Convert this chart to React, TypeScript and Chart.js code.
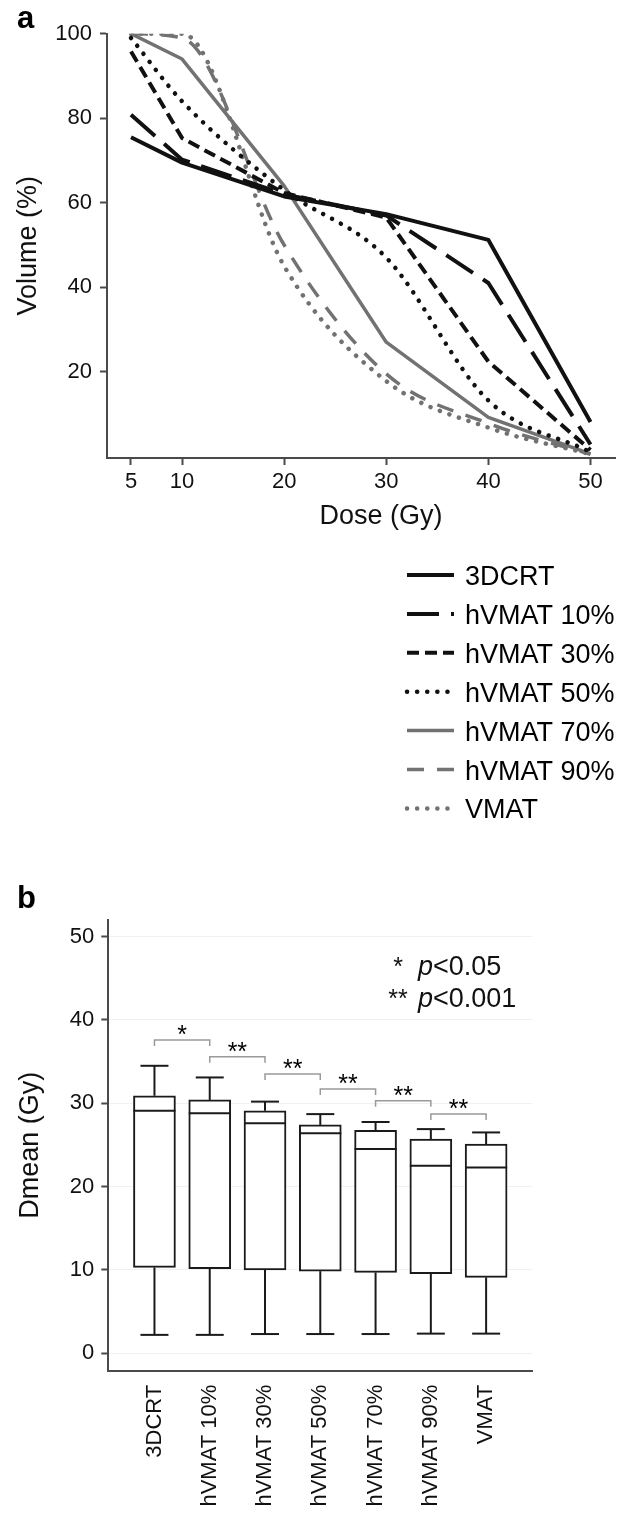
import React, { useEffect, useRef } from 'react';
import { Chart, registerables } from 'chart.js';

Chart.register(...registerables);

const FONT = '"Liberation Sans", Arial, Helvetica, sans-serif';
const INK = '#111111';
const AXIS = '#4a4a4a';
const GRAY = '#727272';

// ---------- Panel a data ----------
const doses = [5, 10, 20, 30, 40, 50];
const doseTicks = [5, 10, 20, 30, 40, 50];
const volumeTicks = [20, 40, 60, 80, 100];
const seriesNames = ['3DCRT', 'hVMAT 10%', 'hVMAT 30%', 'hVMAT 50%', 'hVMAT 70%', 'hVMAT 90%', 'VMAT'];
const vol3DCRT = [75.5, 69.5, 61.5, 57.3, 51.2, 8.1];
const volH10 = [80.8, 70.2, 62.0, 57.0, 41.0, 2.8];
const volH30 = [95.8, 75.3, 62.3, 56.5, 22.4, 1.5];
const volH50 = [99.0, 84.0, 63.0, 47.0, 13.2, 1.0];
const volH70 = [100, 94.0, 64.0, 27.0, 9.2, 0.6];
const volH90 = [100, 99.0, 50.0, 19.5, 7.8, 0.5];
const volVMAT = [100, 100, 45.0, 17.8, 6.8, 0.5];
const volumeSeries = [vol3DCRT, volH10, volH30, volH50, volH70, volH90, volVMAT];

// ---------- Panel b data ----------
const planNames = ['3DCRT', 'hVMAT 10%', 'hVMAT 30%', 'hVMAT 50%', 'hVMAT 70%', 'hVMAT 90%', 'VMAT'];
const dmeanMin = [2.2, 2.2, 2.3, 2.3, 2.3, 2.35, 2.35];
const dmeanQ1 = [10.3, 10.15, 10.0, 9.85, 9.7, 9.55, 9.1];
const dmeanMedian = [29.1, 28.8, 27.6, 26.4, 24.5, 22.5, 22.3];
const dmeanQ3 = [30.9, 30.4, 29.1, 27.4, 26.75, 25.7, 25.1];
const dmeanMax = [34.5, 33.1, 30.2, 28.7, 27.75, 26.9, 26.5];
const dmeanTicks = [0, 10, 20, 30, 40, 50];
const sigHeights = [37.6, 35.6, 33.5, 31.7, 30.3, 28.7];
const sigLabels = ['*', '**', '**', '**', '**', '**'];
const pLegendStars = ['*', '**'];
const pLegendTexts = ['<0.05', '<0.001'];

// ---------- styles ----------
const seriesStyles = [
  { color: INK, width: 4, dash: [] as number[], cap: 'butt', smooth: false },
  { color: INK, width: 4, dash: [32, 12], cap: 'butt', smooth: false },
  { color: INK, width: 4, dash: [12, 6], cap: 'butt', smooth: false },
  { color: INK, width: 4.5, dash: [0.1, 10], cap: 'round', smooth: true },
  { color: GRAY, width: 3.5, dash: [] as number[], cap: 'butt', smooth: false },
  { color: GRAY, width: 3.5, dash: [17, 13], cap: 'butt', smooth: true },
  { color: GRAY, width: 4.5, dash: [0.1, 10], cap: 'round', smooth: true },
];

const panelAPlugin = {
  id: 'panelAExtras',
  afterDraw(chart: any) {
    const { ctx, chartArea: ca } = chart;
    ctx.save();
    ctx.fillStyle = '#000';
    ctx.font = `bold 31px ${FONT}`;
    ctx.textAlign = 'left';
    ctx.textBaseline = 'alphabetic';
    ctx.fillText('a', 17, 28);

    ctx.fillStyle = INK;
    ctx.font = `27px ${FONT}`;
    ctx.save();
    ctx.translate(36, (ca.top + ca.bottom) / 2);
    ctx.rotate(-Math.PI / 2);
    ctx.textAlign = 'center';
    ctx.fillText('Volume (%)', 0, 0);
    ctx.restore();

    ctx.textAlign = 'center';
    ctx.fillText('Dose (Gy)', (ca.left + ca.right) / 2 + 20, 524);

    chart.data.datasets.forEach((ds: any, i: number) => {
      const yy = 575 + i * 38.9;
      ctx.save();
      ctx.strokeStyle = ds.borderColor;
      ctx.lineWidth = ds.borderWidth;
      ctx.setLineDash(ds.borderDash || []);
      ctx.lineCap = ds.borderCapStyle || 'butt';
      ctx.beginPath();
      ctx.moveTo(407, yy);
      ctx.lineTo(454, yy);
      ctx.stroke();
      ctx.restore();
      ctx.textAlign = 'left';
      ctx.fillStyle = '#000';
      ctx.fillText(ds.label, 465, yy + 10);
    });
    ctx.restore();
  },
};

const panelBPlugin = {
  id: 'panelBExtras',
  afterDatasetsDraw(chart: any) {
    const { ctx } = chart;
    const x = chart.scales.x;
    const y = chart.scales.y;
    ctx.save();
    ctx.strokeStyle = '#1a1a1a';
    ctx.lineWidth = 2;
    const seg = (x1: number, y1: number, x2: number, y2: number) => {
      ctx.beginPath();
      ctx.moveTo(x1, y1);
      ctx.lineTo(x2, y2);
      ctx.stroke();
    };
    planNames.forEach((_, i) => {
      const cx = x.getPixelForValue(i);
      const half = 21;
      const cap = 14;
      const yMax = y.getPixelForValue(dmeanMax[i]);
      const yMin = y.getPixelForValue(dmeanMin[i]);
      const yQ1 = y.getPixelForValue(dmeanQ1[i]);
      const yQ3 = y.getPixelForValue(dmeanQ3[i]);
      const yMed = y.getPixelForValue(dmeanMedian[i]);
      seg(cx, yQ3, cx, yMax);
      seg(cx - cap, yMax, cx + cap, yMax);
      seg(cx, yQ1, cx, yMin);
      seg(cx - cap, yMin, cx + cap, yMin);
      seg(cx - half, yMed, cx + half, yMed);
    });

    // significance brackets
    ctx.strokeStyle = '#9a9a9a';
    ctx.lineWidth = 1.5;
    ctx.fillStyle = '#000';
    ctx.font = `25px ${FONT}`;
    ctx.textAlign = 'center';
    ctx.textBaseline = 'alphabetic';
    sigHeights.forEach((h, i) => {
      const x1 = x.getPixelForValue(i);
      const x2 = x.getPixelForValue(i + 1);
      const yy = y.getPixelForValue(h);
      ctx.beginPath();
      ctx.moveTo(x1, yy + 6);
      ctx.lineTo(x1, yy);
      ctx.lineTo(x2, yy);
      ctx.lineTo(x2, yy + 6);
      ctx.stroke();
      ctx.fillText(sigLabels[i], (x1 + x2) / 2, yy + 3);
    });
    ctx.restore();
  },
  afterDraw(chart: any) {
    const { ctx, chartArea: ca } = chart;
    ctx.save();
    ctx.fillStyle = '#000';
    ctx.font = `bold 31px ${FONT}`;
    ctx.textAlign = 'left';
    ctx.textBaseline = 'alphabetic';
    ctx.fillText('b', 17, 48);

    ctx.fillStyle = INK;
    ctx.font = `27px ${FONT}`;
    ctx.save();
    ctx.translate(38, (ca.top + ca.bottom) / 2);
    ctx.rotate(-Math.PI / 2);
    ctx.textAlign = 'center';
    ctx.fillText('Dmean (Gy)', 0, 0);
    ctx.restore();

    // p-value key
    pLegendStars.forEach((s, i) => {
      const base = 115 + i * 32;
      ctx.font = `25px ${FONT}`;
      ctx.textAlign = 'center';
      ctx.fillText(s, 398, base);
      ctx.textAlign = 'left';
      ctx.font = `italic 27px ${FONT}`;
      ctx.fillText('p', 418, base);
      const pw = ctx.measureText('p').width;
      ctx.font = `27px ${FONT}`;
      ctx.fillText(pLegendTexts[i], 418 + pw, base);
    });
    ctx.restore();
  },
};

export default function App() {
  const refA = useRef<HTMLCanvasElement | null>(null);
  const refB = useRef<HTMLCanvasElement | null>(null);

  useEffect(() => {
    const tickFont = { family: FONT, size: 22 };
    const chartA = new Chart(refA.current as HTMLCanvasElement, {
      type: 'line',
      data: {
        datasets: seriesNames.map((name, si) => ({
          label: name,
          data: doses.map((d, i) => ({ x: d, y: volumeSeries[si][i] })),
          borderColor: seriesStyles[si].color,
          borderWidth: seriesStyles[si].width,
          borderDash: seriesStyles[si].dash,
          borderCapStyle: seriesStyles[si].cap as any,
          borderJoinStyle: 'round' as any,
          cubicInterpolationMode: seriesStyles[si].smooth ? 'monotone' : 'default',
          tension: 0,
          pointRadius: 0,
          fill: false,
        })),
      },
      options: {
        animation: false,
        responsive: false,
        devicePixelRatio: 1,
        events: [],
        layout: { padding: { top: 33.7, right: 11, left: 0, bottom: 0 } },
        plugins: { legend: { display: false }, tooltip: { enabled: false } },
        scales: {
          x: {
            type: 'linear',
            min: 2.65,
            max: 52.4,
            afterBuildTicks: (s: any) => {
              s.ticks = doseTicks.map((v) => ({ value: v }));
            },
            afterFit: (s: any) => {
              s.height = 382;
            },
            ticks: { font: tickFont, color: INK, padding: 4, maxRotation: 0, autoSkip: false },
            grid: { drawOnChartArea: false, drawTicks: true, tickLength: 7, tickColor: AXIS, tickWidth: 2 },
            border: { color: AXIS, width: 2 },
          },
          y: {
            type: 'linear',
            min: -0.4,
            max: 100,
            afterBuildTicks: (s: any) => {
              s.ticks = volumeTicks.map((v) => ({ value: v }));
            },
            afterFit: (s: any) => {
              s.width = 107;
            },
            ticks: { font: tickFont, color: INK, padding: 8 },
            grid: { drawOnChartArea: false, drawTicks: true, tickLength: 7, tickColor: AXIS, tickWidth: 2 },
            border: { color: AXIS, width: 2 },
          },
        },
      },
      plugins: [panelAPlugin],
    } as any);

    const chartB = new Chart(refB.current as HTMLCanvasElement, {
      type: 'bar',
      data: {
        datasets: [
          {
            label: 'Dmean',
            data: planNames.map((_, i) => ({ x: i, y: [dmeanQ1[i], dmeanQ3[i]] })),
            backgroundColor: '#ffffff',
            borderColor: '#1a1a1a',
            borderWidth: 2,
            borderSkipped: false,
            barThickness: 42,
          },
        ],
      },
      options: {
        animation: false,
        responsive: false,
        devicePixelRatio: 1,
        events: [],
        layout: { padding: { top: 60, right: 94, left: 0, bottom: 0 } },
        plugins: { legend: { display: false }, tooltip: { enabled: false } },
        scales: {
          x: {
            type: 'linear',
            offset: false,
            min: -0.835,
            max: 6.83,
            afterBuildTicks: (s: any) => {
              s.ticks = planNames.map((_, i) => ({ value: i }));
            },
            afterFit: (s: any) => {
              s.height = 147.3;
            },
            ticks: {
              font: tickFont,
              color: INK,
              padding: 14,
              minRotation: 90,
              maxRotation: 90,
              autoSkip: false,
              callback: (v: any) => planNames[Math.round(Number(v))] ?? '',
            },
            grid: { display: false, drawTicks: false, offset: false },
            border: { color: AXIS, width: 2 },
          },
          y: {
            type: 'linear',
            min: -2.1,
            max: 52,
            afterBuildTicks: (s: any) => {
              s.ticks = dmeanTicks.map((v) => ({ value: v }));
            },
            afterFit: (s: any) => {
              s.width = 108.3;
            },
            ticks: { font: tickFont, color: INK, padding: 7 },
            grid: { color: '#f1f1f1', lineWidth: 1, drawTicks: true, tickLength: 7, tickColor: AXIS, tickWidth: 2 },
            border: { color: AXIS, width: 2 },
          },
        },
      },
      plugins: [panelBPlugin],
    } as any);

    return () => {
      chartA.destroy();
      chartB.destroy();
    };
  }, []);

  return (
    <div style={{ position: 'absolute', left: 0, top: 0, width: 626, height: 1518, background: '#fff' }}>
      <canvas ref={refA} width={626} height={840} style={{ position: 'absolute', left: 0, top: 0, width: 626, height: 840 }} />
      <canvas ref={refB} width={626} height={658} style={{ position: 'absolute', left: 0, top: 860, width: 626, height: 658 }} />
    </div>
  );
}
